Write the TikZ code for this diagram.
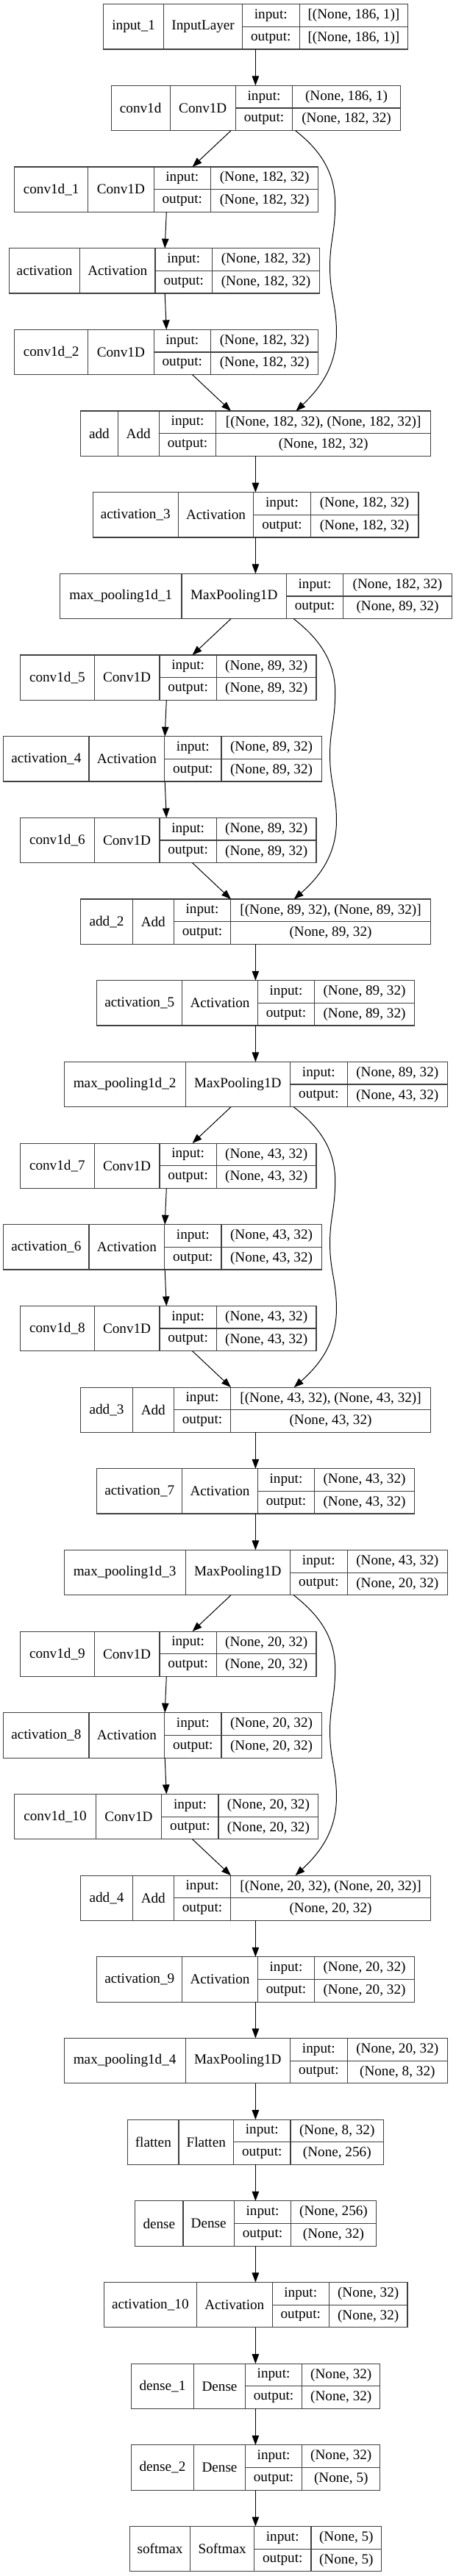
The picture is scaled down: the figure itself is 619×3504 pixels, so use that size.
\documentclass[tikz,border=0pt]{standalone}
\usepackage{fontspec}
\setmainfont{Liberation Serif}
\usetikzlibrary{arrows.meta}

\def\kx{1.1836}
\def\kpos#1,#2,#3,#4,#5\relax{\def\kL{#1}\def\kA{#2}\def\kB{#3}\def\kC{#4}\def\kR{#5}}
\newcommand\kblock[7]{%
 \kpos#3\relax
 \pgfmathsetmacro\kT{5.7+110.67*#2}%
 \pgfmathsetmacro\kM{\kT+30.65}%
 \pgfmathsetmacro\wAll{(\kR-\kL)*\kx}%
 \pgfmathsetmacro\wN{(\kA-\kL)*\kx}%
 \pgfmathsetmacro\wC{(\kB-\kA)*\kx}%
 \pgfmathsetmacro\wI{(\kC-\kB)*\kx}%
 \pgfmathsetmacro\wD{(\kR-\kC)*\kx}%
 \node[whole, minimum width=\wAll pt] (#1) at (\kL,\kT) {};
 \node[cell, minimum width=\wN pt, minimum height=61.3pt] (#1-n) at (\kL,\kT) {#4};
 \node[cell, minimum width=\wC pt, minimum height=61.3pt] (#1-c) at (\kA,\kT) {#5};
 \node[cell, minimum width=\wI pt] (#1-il) at (\kB,\kT) {input:};
 \node[cell, minimum width=\wI pt] (#1-ol) at (\kB,\kM) {output:};
 \node[cell, minimum width=\wD pt] (#1-iv) at (\kC,\kT) {#6};
 \node[cell, minimum width=\wD pt] (#1-ov) at (\kC,\kM) {#7};
}
\newcommand\kskip[5]{%
 \pgfmathsetmacro\yo{5.7+110.67*#3+61.3}%
 \coordinate (sxa) at (#4,0);
 \coordinate (sxb) at (#5,0);
 \draw[edge] (#1.south -| sxa) .. controls ({#4+27},{\yo+25}) and (385,{\yo+55}) .. (385,{\yo+100})
   .. controls (385,{\yo+140}) and (379,{\yo+150}) .. (379,{\yo+185})
   .. controls (379,{\yo+225}) and (386.5,{\yo+235}) .. (386.5,{\yo+275})
   .. controls (386.5,{\yo+320}) and (368,{\yo+350}) .. (#2.north -| sxb);
}

\begin{document}
\begin{tikzpicture}[x=1.1836pt, y=-1pt,
  whole/.style={anchor=north west, inner sep=0pt, outer sep=0pt, minimum height=61.3pt},
  cell/.style={draw=black!75, line width=1.2pt, anchor=north west, inner sep=0pt, outer sep=0pt,
     minimum height=30.65pt, font=\fontsize{19.2}{22}\selectfont},
  edge/.style={draw=black, line width=1pt, -{Triangle[length=13pt,width=9.5pt]}}]
\path[use as bounding box] (0pt,0pt) rectangle (619pt,-3504pt);

\kblock{b0}{0}{118.7,188.3,278.3,344,468.7}{input\_1}{InputLayer}{[(None, 186, 1)]}{[(None, 186, 1)]}
\kblock{b1}{1}{127.7,195.3,270.7,336,460}{conv1d}{Conv1D}{(None, 186, 1)}{(None, 182, 32)}
\kblock{b2}{2}{16.7,101,176.7,242,365.7}{conv1d\_1}{Conv1D}{(None, 182, 32)}{(None, 182, 32)}
\kblock{b3}{3}{10.7,91.7,178.3,243.7,367.3}{activation}{Activation}{(None, 182, 32)}{(None, 182, 32)}
\kblock{b4}{4}{16.7,101,176.7,242,365.7}{conv1d\_2}{Conv1D}{(None, 182, 32)}{(None, 182, 32)}
\kblock{b5}{5}{92.7,135.3,182.7,248.3,494.7}{add}{Add}{[(None, 182, 32), (None, 182, 32)]}{(None, 182, 32)}
\kblock{b6}{6}{106.7,204.7,291.3,356.7,480.7}{activation\_3}{Activation}{(None, 182, 32)}{(None, 182, 32)}
\kblock{b7}{7}{69,208.7,329,394.3,519}{max\_pooling1d\_1}{MaxPooling1D}{(None, 182, 32)}{(None, 89, 32)}
\kblock{b8}{8}{23.3,108.3,183.3,248.7,363.3}{conv1d\_5}{Conv1D}{(None, 89, 32)}{(None, 89, 32)}
\kblock{b9}{9}{4,102.3,189,254.3,369.3}{activation\_4}{Activation}{(None, 89, 32)}{(None, 89, 32)}
\kblock{b10}{10}{23.3,108.3,183.3,248.7,363.3}{conv1d\_6}{Conv1D}{(None, 89, 32)}{(None, 89, 32)}
\kblock{b11}{11}{92.7,152.3,199.7,265,494.7}{add\_2}{Add}{[(None, 89, 32), (None, 89, 32)]}{(None, 89, 32)}
\kblock{b12}{12}{111.3,209.3,296,361.3,476}{activation\_5}{Activation}{(None, 89, 32)}{(None, 89, 32)}
\kblock{b13}{13}{73.7,213,333.3,399,514}{max\_pooling1d\_2}{MaxPooling1D}{(None, 89, 32)}{(None, 43, 32)}
\kblock{b14}{14}{23.3,108.3,183.3,248.7,363.3}{conv1d\_7}{Conv1D}{(None, 43, 32)}{(None, 43, 32)}
\kblock{b15}{15}{4,102.3,189,254.3,369.3}{activation\_6}{Activation}{(None, 43, 32)}{(None, 43, 32)}
\kblock{b16}{16}{23.3,108.3,183.3,248.7,363.3}{conv1d\_8}{Conv1D}{(None, 43, 32)}{(None, 43, 32)}
\kblock{b17}{17}{92.7,152.3,199.7,265,494.7}{add\_3}{Add}{[(None, 43, 32), (None, 43, 32)]}{(None, 43, 32)}
\kblock{b18}{18}{111.3,209.3,296,361.3,476}{activation\_7}{Activation}{(None, 43, 32)}{(None, 43, 32)}
\kblock{b19}{19}{73.7,213,333.3,399,514}{max\_pooling1d\_3}{MaxPooling1D}{(None, 43, 32)}{(None, 20, 32)}
\kblock{b20}{20}{23.3,108.3,183.3,248.7,363.3}{conv1d\_9}{Conv1D}{(None, 20, 32)}{(None, 20, 32)}
\kblock{b21}{21}{4,102.3,189,254.3,369.3}{activation\_8}{Activation}{(None, 20, 32)}{(None, 20, 32)}
\kblock{b22}{22}{16.7,110,185.7,251,365.7}{conv1d\_10}{Conv1D}{(None, 20, 32)}{(None, 20, 32)}
\kblock{b23}{23}{92.7,152.3,199.7,265,494.7}{add\_4}{Add}{[(None, 20, 32), (None, 20, 32)]}{(None, 20, 32)}
\kblock{b24}{24}{111.3,209.3,296,361.3,476}{activation\_9}{Activation}{(None, 20, 32)}{(None, 20, 32)}
\kblock{b25}{25}{73.7,213,333.3,399,514}{max\_pooling1d\_4}{MaxPooling1D}{(None, 20, 32)}{(None, 8, 32)}
\kblock{b26}{26}{146.7,205.3,268.3,333.7,440.7}{flatten}{Flatten}{(None, 8, 32)}{(None, 256)}
\kblock{b27}{27}{155.3,210.3,269,334.3,432}{dense}{Dense}{(None, 256)}{(None, 32)}
\kblock{b28}{28}{119.3,226,312.7,378,468}{activation\_10}{Activation}{(None, 32)}{(None, 32)}
\kblock{b29}{29}{150.7,222.7,281.7,347,436.7}{dense\_1}{Dense}{(None, 32)}{(None, 32)}
\kblock{b30}{30}{150.7,222.7,281.7,347,436.7}{dense\_2}{Dense}{(None, 32)}{(None, 5)}
\kblock{b31}{31}{149,218.7,292,357.3,438.3}{softmax}{Softmax}{(None, 5)}{(None, 5)}

\coordinate (xm) at (293.5,0);
\coordinate (xa) at (265.3,0);
\coordinate (xb) at (221,0);
\coordinate (xc) at (191.2,0);
\coordinate (xd) at (189.4,0);

% main column
\foreach \p/\q in {b0/b1,b5/b6,b6/b7,b11/b12,b12/b13,b17/b18,b18/b19,b23/b24,b24/b25,
                   b25/b26,b26/b27,b27/b28,b28/b29,b29/b30,b30/b31}
  \draw[edge] (\p.south -| xm) -- (\q.north -| xm);

% branch into side column
\foreach \p/\q in {b1/b2,b7/b8,b13/b14,b19/b20}
  \draw[edge] (\p.south -| xa) -- (\q.north -| xb);
% side column down
\foreach \p/\q in {b2/b3,b8/b9,b14/b15,b20/b21}
  \draw[edge] (\p.south -| xc) -- (\q.north -| xd);
\foreach \p/\q in {b3/b4,b9/b10,b15/b16,b21/b22}
  \draw[edge] (\p.south -| xd) -- (\q.north -| xc);
% back into add
\foreach \p/\q in {b4/b5,b10/b11,b16/b17,b22/b23}
  \draw[edge] (\p.south -| xb) -- (\q.north -| xa);

% skip connections
\kskip{b1}{b5}{1}{339.3}{340}
\kskip{b7}{b11}{7}{337.3}{337.7}
\kskip{b13}{b17}{13}{337.3}{337.7}
\kskip{b19}{b23}{19}{337.3}{339.3}
\end{tikzpicture}
\end{document}
